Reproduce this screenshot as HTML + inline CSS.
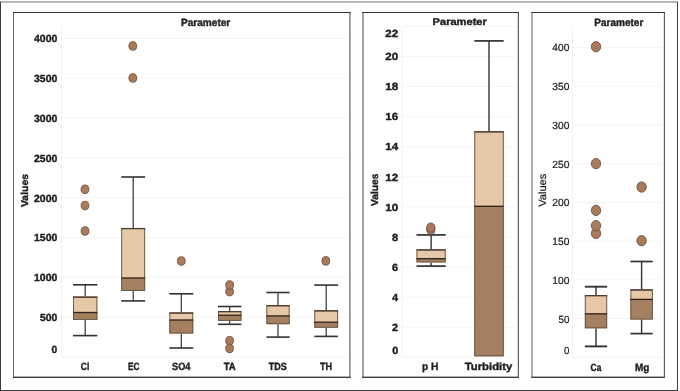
<!DOCTYPE html><html><head><meta charset="utf-8"><title>Boxplots</title><style>
html,body{margin:0;padding:0;background:#fff;}body{width:680px;height:391px;overflow:hidden;}
svg{display:block;will-change:transform;}text{text-rendering:geometricPrecision;font-family:"Liberation Sans",sans-serif;fill:#1e1e1e;}
</style></head><body>
<svg width="680" height="391" viewBox="0 0 680 391">
<rect x="0" y="0" width="680" height="391" fill="#ffffff"/>
<rect x="0" y="1.1" width="678" height="1.6" fill="#a6a6a6"/>
<rect x="0" y="2" width="1" height="389" fill="#3a3a3a"/>
<rect x="677" y="2" width="1" height="389" fill="#444"/>
<rect x="0" y="390" width="678" height="1" fill="#3a3a3a"/>
<rect x="13.5" y="12.5" width="336.4" height="364.8" fill="#fff"/>
<rect x="13.0" y="12" width="1.0" height="365.8" fill="#666"/>
<rect x="349.09999999999997" y="12" width="1.6" height="365.8" fill="#8a8a8a"/>
<rect x="13.0" y="12" width="337.7" height="1" fill="#343434"/>
<rect x="13.0" y="376.6" width="337.7" height="1.4" fill="#3e3e3e"/>
<rect x="363" y="12.5" width="155.39999999999998" height="364.8" fill="#fff"/>
<rect x="362.2" y="12" width="1.6" height="365.8" fill="#8a8a8a"/>
<rect x="517.8" y="12" width="1.2" height="365.8" fill="#585858"/>
<rect x="362.2" y="12" width="156.8" height="1" fill="#343434"/>
<rect x="362.2" y="376.6" width="156.8" height="1.4" fill="#3e3e3e"/>
<rect x="532" y="12.5" width="132.35000000000002" height="364.8" fill="#fff"/>
<rect x="531.35" y="12" width="1.3" height="365.8" fill="#858585"/>
<rect x="663.85" y="12" width="1.0" height="365.8" fill="#484848"/>
<rect x="531.35" y="12" width="133.50000000000003" height="1" fill="#343434"/>
<rect x="531.35" y="376.6" width="133.50000000000003" height="1.4" fill="#3e3e3e"/>
<line x1="61.5" y1="26.5" x2="61.5" y2="357" stroke="#f3f3f3" stroke-width="1"/>
<line x1="61.5" y1="357" x2="347.5" y2="357" stroke="#f3f3f3" stroke-width="1"/>
<line x1="61.5" y1="38.5" x2="347.5" y2="38.5" stroke="#f4f4f4" stroke-width="1"/>
<line x1="61.5" y1="78.3" x2="347.5" y2="78.3" stroke="#f4f4f4" stroke-width="1"/>
<line x1="61.5" y1="118.1" x2="347.5" y2="118.1" stroke="#f4f4f4" stroke-width="1"/>
<line x1="61.5" y1="157.89999999999998" x2="347.5" y2="157.89999999999998" stroke="#f4f4f4" stroke-width="1"/>
<line x1="61.5" y1="197.7" x2="347.5" y2="197.7" stroke="#f4f4f4" stroke-width="1"/>
<line x1="61.5" y1="237.5" x2="347.5" y2="237.5" stroke="#f4f4f4" stroke-width="1"/>
<line x1="61.5" y1="277.29999999999995" x2="347.5" y2="277.29999999999995" stroke="#f4f4f4" stroke-width="1"/>
<line x1="61.5" y1="317.09999999999997" x2="347.5" y2="317.09999999999997" stroke="#f4f4f4" stroke-width="1"/>
<text x="57.3" y="42" text-anchor="end" font-weight="bold" font-size="10.3" stroke="#1e1e1e" stroke-width="0.4" textLength="23.3" lengthAdjust="spacingAndGlyphs">4000</text>
<text x="57.3" y="82" text-anchor="end" font-weight="bold" font-size="10.3" stroke="#1e1e1e" stroke-width="0.4" textLength="23.3" lengthAdjust="spacingAndGlyphs">3500</text>
<text x="57.3" y="122" text-anchor="end" font-weight="bold" font-size="10.3" stroke="#1e1e1e" stroke-width="0.4" textLength="23.3" lengthAdjust="spacingAndGlyphs">3000</text>
<text x="57.3" y="162" text-anchor="end" font-weight="bold" font-size="10.3" stroke="#1e1e1e" stroke-width="0.4" textLength="23.3" lengthAdjust="spacingAndGlyphs">2500</text>
<text x="57.3" y="202" text-anchor="end" font-weight="bold" font-size="10.3" stroke="#1e1e1e" stroke-width="0.4" textLength="23.3" lengthAdjust="spacingAndGlyphs">2000</text>
<text x="57.3" y="241" text-anchor="end" font-weight="bold" font-size="10.3" stroke="#1e1e1e" stroke-width="0.4" textLength="23.3" lengthAdjust="spacingAndGlyphs">1500</text>
<text x="57.3" y="281" text-anchor="end" font-weight="bold" font-size="10.3" stroke="#1e1e1e" stroke-width="0.4" textLength="23.3" lengthAdjust="spacingAndGlyphs">1000</text>
<text x="57.3" y="321" text-anchor="end" font-weight="bold" font-size="10.3" stroke="#1e1e1e" stroke-width="0.4" textLength="17.3" lengthAdjust="spacingAndGlyphs">500</text>
<text x="57.3" y="353" text-anchor="end" font-weight="bold" font-size="10.3" stroke="#1e1e1e" stroke-width="0.4" textLength="5.7" lengthAdjust="spacingAndGlyphs">0</text>
<text x="180.9" y="26" text-anchor="start" font-weight="bold" font-size="10.5" stroke="#1e1e1e" stroke-width="0.4" textLength="49.4" lengthAdjust="spacingAndGlyphs">Parameter</text>
<text x="27.8" y="190.5" text-anchor="middle" font-weight="bold" font-size="10" stroke="#1e1e1e" stroke-width="0.4" textLength="33" lengthAdjust="spacingAndGlyphs" transform="rotate(-90 27.8 190.5)">Values</text>
<line x1="85.2" y1="284.8" x2="85.2" y2="296.6" stroke="#323232" stroke-width="1.2"/>
<line x1="73.05" y1="284.8" x2="97.35000000000001" y2="284.8" stroke="#323232" stroke-width="1.6"/>
<line x1="85.2" y1="319.8" x2="85.2" y2="335.6" stroke="#323232" stroke-width="1.2"/>
<line x1="73.05" y1="335.6" x2="97.35000000000001" y2="335.6" stroke="#323232" stroke-width="1.6"/>
<rect x="73.05" y="296.6" width="24.3" height="15.899999999999977" fill="#E6C8A8"/>
<rect x="73.05" y="312.5" width="24.3" height="7.300000000000011" fill="#A58060"/>
<rect x="73.5" y="297.05" width="23.400000000000002" height="22.29999999999999" fill="none" stroke="#62503f" stroke-width="0.9"/>
<line x1="73.05" y1="297.20000000000005" x2="97.35000000000001" y2="297.20000000000005" stroke="#4b3a30" stroke-width="1.3"/>
<line x1="73.05" y1="312.5" x2="97.35000000000001" y2="312.5" stroke="#33231e" stroke-width="1.35"/>
<ellipse cx="85" cy="189.3" rx="3.88" ry="4.3" fill="#A97B5C" stroke="#624636" stroke-width="0.8"/>
<ellipse cx="85" cy="205.5" rx="3.88" ry="4.3" fill="#A97B5C" stroke="#624636" stroke-width="0.8"/>
<ellipse cx="85" cy="231" rx="3.88" ry="4.3" fill="#A97B5C" stroke="#624636" stroke-width="0.8"/>
<line x1="133.2" y1="177" x2="133.2" y2="228" stroke="#323232" stroke-width="1.2"/>
<line x1="121.24999999999999" y1="177" x2="145.14999999999998" y2="177" stroke="#323232" stroke-width="1.6"/>
<line x1="133.2" y1="290.9" x2="133.2" y2="300.9" stroke="#323232" stroke-width="1.2"/>
<line x1="121.24999999999999" y1="300.9" x2="145.14999999999998" y2="300.9" stroke="#323232" stroke-width="1.6"/>
<rect x="121.24999999999999" y="228" width="23.9" height="50" fill="#E6C8A8"/>
<rect x="121.24999999999999" y="278" width="23.9" height="12.899999999999977" fill="#A58060"/>
<rect x="121.69999999999999" y="228.45" width="23.0" height="61.99999999999998" fill="none" stroke="#62503f" stroke-width="0.9"/>
<line x1="121.24999999999999" y1="228.6" x2="145.14999999999998" y2="228.6" stroke="#4b3a30" stroke-width="1.3"/>
<line x1="121.24999999999999" y1="278" x2="145.14999999999998" y2="278" stroke="#33231e" stroke-width="1.35"/>
<ellipse cx="132.8" cy="46" rx="3.88" ry="4.3" fill="#A97B5C" stroke="#624636" stroke-width="0.8"/>
<ellipse cx="132.8" cy="78" rx="3.88" ry="4.3" fill="#A97B5C" stroke="#624636" stroke-width="0.8"/>
<line x1="181.3" y1="293.8" x2="181.3" y2="312.5" stroke="#323232" stroke-width="1.2"/>
<line x1="169.35000000000002" y1="293.8" x2="193.25" y2="293.8" stroke="#323232" stroke-width="1.6"/>
<line x1="181.3" y1="333.5" x2="181.3" y2="348" stroke="#323232" stroke-width="1.2"/>
<line x1="169.35000000000002" y1="348" x2="193.25" y2="348" stroke="#323232" stroke-width="1.6"/>
<rect x="169.35000000000002" y="312.5" width="23.9" height="7.5" fill="#E6C8A8"/>
<rect x="169.35000000000002" y="320" width="23.9" height="13.5" fill="#A58060"/>
<rect x="169.8" y="312.95" width="23.0" height="20.1" fill="none" stroke="#62503f" stroke-width="0.9"/>
<line x1="169.35000000000002" y1="313.1" x2="193.25" y2="313.1" stroke="#4b3a30" stroke-width="1.3"/>
<line x1="169.35000000000002" y1="320" x2="193.25" y2="320" stroke="#33231e" stroke-width="1.35"/>
<ellipse cx="181.3" cy="261" rx="3.88" ry="4.3" fill="#A97B5C" stroke="#624636" stroke-width="0.8"/>
<line x1="229.7" y1="306.5" x2="229.7" y2="311.1" stroke="#323232" stroke-width="1.2"/>
<line x1="218.0" y1="306.5" x2="241.39999999999998" y2="306.5" stroke="#323232" stroke-width="1.6"/>
<line x1="229.7" y1="320.8" x2="229.7" y2="324.3" stroke="#323232" stroke-width="1.2"/>
<line x1="218.0" y1="324.3" x2="241.39999999999998" y2="324.3" stroke="#323232" stroke-width="1.6"/>
<rect x="218.0" y="311.1" width="23.4" height="4.099999999999966" fill="#E6C8A8"/>
<rect x="218.0" y="315.2" width="23.4" height="5.600000000000023" fill="#A58060"/>
<rect x="218.45" y="311.55" width="22.5" height="8.799999999999988" fill="none" stroke="#62503f" stroke-width="0.9"/>
<line x1="218.0" y1="311.70000000000005" x2="241.39999999999998" y2="311.70000000000005" stroke="#4b3a30" stroke-width="1.3"/>
<line x1="218.0" y1="315.2" x2="241.39999999999998" y2="315.2" stroke="#33231e" stroke-width="1.35"/>
<ellipse cx="229.6" cy="291.6" rx="3.88" ry="4.3" fill="#A97B5C" stroke="#624636" stroke-width="0.8"/>
<ellipse cx="229.6" cy="285" rx="3.88" ry="4.3" fill="#A97B5C" stroke="#624636" stroke-width="0.8"/>
<ellipse cx="229.6" cy="340.7" rx="3.88" ry="4.3" fill="#A97B5C" stroke="#624636" stroke-width="0.8"/>
<ellipse cx="229.6" cy="348.4" rx="3.88" ry="4.3" fill="#A97B5C" stroke="#624636" stroke-width="0.8"/>
<line x1="278" y1="292.5" x2="278" y2="305.2" stroke="#323232" stroke-width="1.2"/>
<line x1="266.4" y1="292.5" x2="289.6" y2="292.5" stroke="#323232" stroke-width="1.6"/>
<line x1="278" y1="324.2" x2="278" y2="337.1" stroke="#323232" stroke-width="1.2"/>
<line x1="266.4" y1="337.1" x2="289.6" y2="337.1" stroke="#323232" stroke-width="1.6"/>
<rect x="266.4" y="305.2" width="23.2" height="10.699999999999989" fill="#E6C8A8"/>
<rect x="266.4" y="315.9" width="23.2" height="8.300000000000011" fill="#A58060"/>
<rect x="266.84999999999997" y="305.65" width="22.3" height="18.1" fill="none" stroke="#62503f" stroke-width="0.9"/>
<line x1="266.4" y1="305.8" x2="289.6" y2="305.8" stroke="#4b3a30" stroke-width="1.3"/>
<line x1="266.4" y1="315.9" x2="289.6" y2="315.9" stroke="#33231e" stroke-width="1.35"/>
<line x1="326.2" y1="285.1" x2="326.2" y2="310.3" stroke="#323232" stroke-width="1.2"/>
<line x1="314.3" y1="285.1" x2="338.09999999999997" y2="285.1" stroke="#323232" stroke-width="1.6"/>
<line x1="326.2" y1="327.7" x2="326.2" y2="336.4" stroke="#323232" stroke-width="1.2"/>
<line x1="314.3" y1="336.4" x2="338.09999999999997" y2="336.4" stroke="#323232" stroke-width="1.6"/>
<rect x="314.3" y="310.3" width="23.8" height="11.899999999999977" fill="#E6C8A8"/>
<rect x="314.3" y="322.2" width="23.8" height="5.5" fill="#A58060"/>
<rect x="314.75" y="310.75" width="22.900000000000002" height="16.49999999999998" fill="none" stroke="#62503f" stroke-width="0.9"/>
<line x1="314.3" y1="310.90000000000003" x2="338.09999999999997" y2="310.90000000000003" stroke="#4b3a30" stroke-width="1.3"/>
<line x1="314.3" y1="322.2" x2="338.09999999999997" y2="322.2" stroke="#33231e" stroke-width="1.35"/>
<ellipse cx="325.8" cy="260.9" rx="3.88" ry="4.3" fill="#A97B5C" stroke="#624636" stroke-width="0.8"/>
<text x="80.75" y="370" text-anchor="start" font-weight="bold" font-size="10.5" stroke="#1e1e1e" stroke-width="0.4" textLength="8.5" lengthAdjust="spacingAndGlyphs">Cl</text>
<text x="128" y="370" text-anchor="start" font-weight="bold" font-size="10.5" stroke="#1e1e1e" stroke-width="0.4" textLength="11.5" lengthAdjust="spacingAndGlyphs">EC</text>
<text x="172" y="370" text-anchor="start" font-weight="bold" font-size="10.5" stroke="#1e1e1e" stroke-width="0.4" textLength="18.5" lengthAdjust="spacingAndGlyphs">SO4</text>
<text x="223.75" y="370" text-anchor="start" font-weight="bold" font-size="10.5" stroke="#1e1e1e" stroke-width="0.4" textLength="12.0" lengthAdjust="spacingAndGlyphs">TA</text>
<text x="268.75" y="370" text-anchor="start" font-weight="bold" font-size="10.5" stroke="#1e1e1e" stroke-width="0.4" textLength="18.0" lengthAdjust="spacingAndGlyphs">TDS</text>
<text x="320" y="370" text-anchor="start" font-weight="bold" font-size="10.5" stroke="#1e1e1e" stroke-width="0.4" textLength="12" lengthAdjust="spacingAndGlyphs">TH</text>
<line x1="401.9" y1="26.5" x2="401.9" y2="357" stroke="#f3f3f3" stroke-width="1"/>
<line x1="401.9" y1="357" x2="516" y2="357" stroke="#f3f3f3" stroke-width="1"/>
<line x1="401.9" y1="26.540000000000003" x2="516" y2="26.540000000000003" stroke="#f4f4f4" stroke-width="1"/>
<line x1="401.9" y1="56.6" x2="516" y2="56.6" stroke="#f4f4f4" stroke-width="1"/>
<line x1="401.9" y1="86.66" x2="516" y2="86.66" stroke="#f4f4f4" stroke-width="1"/>
<line x1="401.9" y1="116.72" x2="516" y2="116.72" stroke="#f4f4f4" stroke-width="1"/>
<line x1="401.9" y1="146.78" x2="516" y2="146.78" stroke="#f4f4f4" stroke-width="1"/>
<line x1="401.9" y1="176.84" x2="516" y2="176.84" stroke="#f4f4f4" stroke-width="1"/>
<line x1="401.9" y1="206.89999999999998" x2="516" y2="206.89999999999998" stroke="#f4f4f4" stroke-width="1"/>
<line x1="401.9" y1="236.95999999999998" x2="516" y2="236.95999999999998" stroke="#f4f4f4" stroke-width="1"/>
<line x1="401.9" y1="267.02" x2="516" y2="267.02" stroke="#f4f4f4" stroke-width="1"/>
<line x1="401.9" y1="297.08" x2="516" y2="297.08" stroke="#f4f4f4" stroke-width="1"/>
<line x1="401.9" y1="327.14" x2="516" y2="327.14" stroke="#f4f4f4" stroke-width="1"/>
<text x="398.2" y="60" text-anchor="end" font-weight="bold" font-size="10.3" stroke="#1e1e1e" stroke-width="0.4" textLength="12.9" lengthAdjust="spacingAndGlyphs">20</text>
<text x="398.2" y="90" text-anchor="end" font-weight="bold" font-size="10.3" stroke="#1e1e1e" stroke-width="0.4" textLength="12.9" lengthAdjust="spacingAndGlyphs">18</text>
<text x="398.2" y="120" text-anchor="end" font-weight="bold" font-size="10.3" stroke="#1e1e1e" stroke-width="0.4" textLength="12.9" lengthAdjust="spacingAndGlyphs">16</text>
<text x="398.2" y="150" text-anchor="end" font-weight="bold" font-size="10.3" stroke="#1e1e1e" stroke-width="0.4" textLength="12.9" lengthAdjust="spacingAndGlyphs">14</text>
<text x="398.2" y="181" text-anchor="end" font-weight="bold" font-size="10.3" stroke="#1e1e1e" stroke-width="0.4" textLength="12.9" lengthAdjust="spacingAndGlyphs">12</text>
<text x="398.2" y="211" text-anchor="end" font-weight="bold" font-size="10.3" stroke="#1e1e1e" stroke-width="0.4" textLength="12.9" lengthAdjust="spacingAndGlyphs">10</text>
<text x="398.2" y="241" text-anchor="end" font-weight="bold" font-size="10.3" stroke="#1e1e1e" stroke-width="0.4" textLength="6.1" lengthAdjust="spacingAndGlyphs">8</text>
<text x="398.2" y="271" text-anchor="end" font-weight="bold" font-size="10.3" stroke="#1e1e1e" stroke-width="0.4" textLength="6.1" lengthAdjust="spacingAndGlyphs">6</text>
<text x="398.2" y="301" text-anchor="end" font-weight="bold" font-size="10.3" stroke="#1e1e1e" stroke-width="0.4" textLength="6.1" lengthAdjust="spacingAndGlyphs">4</text>
<text x="398.2" y="331" text-anchor="end" font-weight="bold" font-size="10.3" stroke="#1e1e1e" stroke-width="0.4" textLength="6.1" lengthAdjust="spacingAndGlyphs">2</text>
<text x="398.2" y="37" text-anchor="end" font-weight="bold" font-size="10.3" stroke="#1e1e1e" stroke-width="0.4" textLength="12.9" lengthAdjust="spacingAndGlyphs">22</text>
<text x="398.2" y="354" text-anchor="end" font-weight="bold" font-size="10.3" stroke="#1e1e1e" stroke-width="0.4" textLength="6.0" lengthAdjust="spacingAndGlyphs">0</text>
<text x="432.6" y="25" text-anchor="start" font-weight="bold" font-size="10" stroke="#1e1e1e" stroke-width="0.4" textLength="54.2" lengthAdjust="spacingAndGlyphs">Parameter</text>
<text x="377.6" y="189.8" text-anchor="middle" font-weight="bold" font-size="10.1" stroke="#1e1e1e" stroke-width="0.4" textLength="32.4" lengthAdjust="spacingAndGlyphs" transform="rotate(-90 377.6 189.8)">Values</text>
<line x1="431.1" y1="234.9" x2="431.1" y2="249.4" stroke="#323232" stroke-width="1.4"/>
<line x1="416.5" y1="234.9" x2="445.70000000000005" y2="234.9" stroke="#323232" stroke-width="1.7"/>
<line x1="431.1" y1="262.4" x2="431.1" y2="266.1" stroke="#323232" stroke-width="1.4"/>
<line x1="416.5" y1="266.1" x2="445.70000000000005" y2="266.1" stroke="#323232" stroke-width="1.7"/>
<rect x="416.5" y="249.4" width="29.2" height="9.299999999999983" fill="#E6C8A8"/>
<rect x="416.5" y="258.7" width="29.2" height="3.6999999999999886" fill="#A58060"/>
<rect x="416.95" y="249.85" width="28.3" height="12.099999999999971" fill="none" stroke="#62503f" stroke-width="0.9"/>
<line x1="416.5" y1="250.0" x2="445.70000000000005" y2="250.0" stroke="#4b3a30" stroke-width="1.3"/>
<line x1="416.5" y1="258.7" x2="445.70000000000005" y2="258.7" stroke="#33231e" stroke-width="1.35"/>
<ellipse cx="430.8" cy="230" rx="4.18" ry="4.6" fill="#A97B5C" stroke="#624636" stroke-width="0.8"/>
<ellipse cx="430.8" cy="227.5" rx="4.18" ry="4.6" fill="#A97B5C" stroke="#624636" stroke-width="0.8"/>
<line x1="489" y1="40.9" x2="489" y2="131.3" stroke="#323232" stroke-width="1.4"/>
<line x1="474.3" y1="40.9" x2="503.7" y2="40.9" stroke="#323232" stroke-width="1.7"/>
<rect x="474.3" y="131.3" width="29.4" height="75.0" fill="#E6C8A8"/>
<rect x="474.3" y="206.3" width="29.4" height="150.0" fill="#A58060"/>
<rect x="474.75" y="131.75" width="28.5" height="224.1" fill="none" stroke="#62503f" stroke-width="0.9"/>
<line x1="474.3" y1="131.9" x2="503.7" y2="131.9" stroke="#4b3a30" stroke-width="1.3"/>
<line x1="474.3" y1="206.3" x2="503.7" y2="206.3" stroke="#33231e" stroke-width="1.35"/>
<text x="422" y="370" text-anchor="start" font-weight="bold" font-size="10.5" stroke="#1e1e1e" stroke-width="0.4" textLength="16.3" lengthAdjust="spacingAndGlyphs">p H</text>
<text x="464.8" y="370" text-anchor="start" font-weight="bold" font-size="10.5" stroke="#1e1e1e" stroke-width="0.4" textLength="47.4" lengthAdjust="spacingAndGlyphs">Turbidity</text>
<line x1="572.5" y1="27" x2="572.5" y2="357.3" stroke="#f3f3f3" stroke-width="1"/>
<line x1="572.5" y1="357.3" x2="662" y2="357.3" stroke="#f3f3f3" stroke-width="1"/>
<line x1="572.5" y1="47.6" x2="662" y2="47.6" stroke="#f4f4f4" stroke-width="1"/>
<line x1="572.5" y1="86.32" x2="662" y2="86.32" stroke="#f4f4f4" stroke-width="1"/>
<line x1="572.5" y1="125.03999999999999" x2="662" y2="125.03999999999999" stroke="#f4f4f4" stroke-width="1"/>
<line x1="572.5" y1="163.76" x2="662" y2="163.76" stroke="#f4f4f4" stroke-width="1"/>
<line x1="572.5" y1="202.48" x2="662" y2="202.48" stroke="#f4f4f4" stroke-width="1"/>
<line x1="572.5" y1="241.2" x2="662" y2="241.2" stroke="#f4f4f4" stroke-width="1"/>
<line x1="572.5" y1="279.92" x2="662" y2="279.92" stroke="#f4f4f4" stroke-width="1"/>
<line x1="572.5" y1="318.64" x2="662" y2="318.64" stroke="#f4f4f4" stroke-width="1"/>
<text x="569.4" y="51" text-anchor="end" font-weight="normal" font-size="10.4" stroke="#1e1e1e" stroke-width="0.22" textLength="17.1" lengthAdjust="spacingAndGlyphs">400</text>
<text x="569.4" y="90" text-anchor="end" font-weight="normal" font-size="10.4" stroke="#1e1e1e" stroke-width="0.22" textLength="17.1" lengthAdjust="spacingAndGlyphs">350</text>
<text x="569.4" y="129" text-anchor="end" font-weight="normal" font-size="10.4" stroke="#1e1e1e" stroke-width="0.22" textLength="17.1" lengthAdjust="spacingAndGlyphs">300</text>
<text x="569.4" y="168" text-anchor="end" font-weight="normal" font-size="10.4" stroke="#1e1e1e" stroke-width="0.22" textLength="17.1" lengthAdjust="spacingAndGlyphs">250</text>
<text x="569.4" y="206" text-anchor="end" font-weight="normal" font-size="10.4" stroke="#1e1e1e" stroke-width="0.22" textLength="17.1" lengthAdjust="spacingAndGlyphs">200</text>
<text x="569.4" y="245" text-anchor="end" font-weight="normal" font-size="10.4" stroke="#1e1e1e" stroke-width="0.22" textLength="17.1" lengthAdjust="spacingAndGlyphs">150</text>
<text x="569.4" y="284" text-anchor="end" font-weight="normal" font-size="10.4" stroke="#1e1e1e" stroke-width="0.22" textLength="17.1" lengthAdjust="spacingAndGlyphs">100</text>
<text x="569.4" y="323" text-anchor="end" font-weight="normal" font-size="10.4" stroke="#1e1e1e" stroke-width="0.22" textLength="10.9" lengthAdjust="spacingAndGlyphs">50</text>
<text x="569.4" y="354" text-anchor="end" font-weight="normal" font-size="10.4" stroke="#1e1e1e" stroke-width="0.22" textLength="5.4" lengthAdjust="spacingAndGlyphs">0</text>
<text x="594.3" y="25.6" text-anchor="start" font-weight="bold" font-size="10.6" stroke="#1e1e1e" stroke-width="0.4" textLength="49" lengthAdjust="spacingAndGlyphs">Parameter</text>
<text x="546.5" y="190.2" text-anchor="middle" font-weight="normal" font-size="10.5" stroke="#1e1e1e" stroke-width="0.22" textLength="33" lengthAdjust="spacingAndGlyphs" transform="rotate(-90 546.5 190.2)">Values</text>
<line x1="596" y1="286.7" x2="596" y2="295.1" stroke="#323232" stroke-width="1.4"/>
<line x1="584.85" y1="286.7" x2="607.15" y2="286.7" stroke="#323232" stroke-width="1.9"/>
<line x1="596" y1="328.3" x2="596" y2="346.4" stroke="#323232" stroke-width="1.4"/>
<line x1="584.85" y1="346.4" x2="607.15" y2="346.4" stroke="#323232" stroke-width="1.9"/>
<rect x="584.85" y="295.1" width="22.3" height="18.69999999999999" fill="#E6C8A8"/>
<rect x="584.85" y="313.8" width="22.3" height="14.5" fill="#A58060"/>
<rect x="585.3000000000001" y="295.55" width="21.400000000000002" height="32.29999999999999" fill="none" stroke="#62503f" stroke-width="0.9"/>
<line x1="584.85" y1="295.70000000000005" x2="607.15" y2="295.70000000000005" stroke="#4b3a30" stroke-width="1.3"/>
<line x1="584.85" y1="313.8" x2="607.15" y2="313.8" stroke="#33231e" stroke-width="1.35"/>
<ellipse cx="596" cy="46.7" rx="4.73" ry="5.15" fill="#A97B5C" stroke="#624636" stroke-width="0.8"/>
<ellipse cx="596" cy="163.6" rx="4.73" ry="5.15" fill="#A97B5C" stroke="#624636" stroke-width="0.8"/>
<ellipse cx="596" cy="210.4" rx="4.73" ry="5.15" fill="#A97B5C" stroke="#624636" stroke-width="0.8"/>
<ellipse cx="596" cy="233.4" rx="4.73" ry="5.15" fill="#A97B5C" stroke="#624636" stroke-width="0.8"/>
<ellipse cx="596" cy="225.6" rx="4.73" ry="5.15" fill="#A97B5C" stroke="#624636" stroke-width="0.8"/>
<line x1="641.6" y1="261.5" x2="641.6" y2="289.4" stroke="#323232" stroke-width="1.4"/>
<line x1="630.45" y1="261.5" x2="652.75" y2="261.5" stroke="#323232" stroke-width="1.7"/>
<line x1="641.6" y1="319.5" x2="641.6" y2="333.6" stroke="#323232" stroke-width="1.4"/>
<line x1="630.45" y1="333.6" x2="652.75" y2="333.6" stroke="#323232" stroke-width="1.7"/>
<rect x="630.45" y="289.4" width="22.3" height="10.0" fill="#E6C8A8"/>
<rect x="630.45" y="299.4" width="22.3" height="20.100000000000023" fill="#A58060"/>
<rect x="630.9000000000001" y="289.84999999999997" width="21.400000000000002" height="29.200000000000024" fill="none" stroke="#62503f" stroke-width="0.9"/>
<line x1="630.45" y1="290.0" x2="652.75" y2="290.0" stroke="#4b3a30" stroke-width="1.3"/>
<line x1="630.45" y1="299.4" x2="652.75" y2="299.4" stroke="#33231e" stroke-width="1.35"/>
<ellipse cx="641.6" cy="187" rx="4.73" ry="5.15" fill="#A97B5C" stroke="#624636" stroke-width="0.8"/>
<ellipse cx="641.6" cy="240.7" rx="4.73" ry="5.15" fill="#A97B5C" stroke="#624636" stroke-width="0.8"/>
<text x="590.6" y="370.8" text-anchor="start" font-weight="bold" font-size="10.5" stroke="#1e1e1e" stroke-width="0.4" textLength="10.8" lengthAdjust="spacingAndGlyphs">Ca</text>
<text x="634.9" y="370.8" text-anchor="start" font-weight="bold" font-size="10.5" stroke="#1e1e1e" stroke-width="0.4" textLength="14.3" lengthAdjust="spacingAndGlyphs">Mg</text>
</svg></body></html>
